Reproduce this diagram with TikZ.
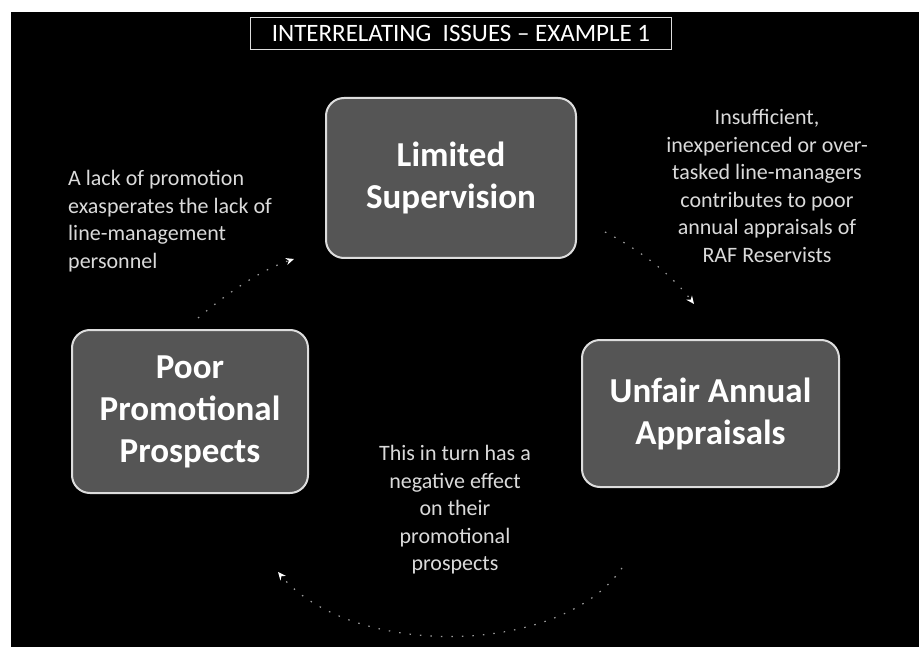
\documentclass[tikz,border=0pt]{standalone}
\usepackage{fontspec}
\setmainfont{Carlito}
\usetikzlibrary{arrows.meta}
\definecolor{boxgray}{HTML}{555555}
\definecolor{boxedge}{HTML}{DDDDDD}
\definecolor{notegray}{HTML}{DADADA}
\definecolor{arcgray}{HTML}{9A9A9A}
\begin{document}
\begin{tikzpicture}[x=1pt,y=-1pt,
  issue/.style={draw=boxedge, line width=2pt, fill=boxgray, rounded corners=18pt,
    text=white, font=\fontsize{35}{42}\selectfont\bfseries, align=center, inner sep=0pt},
  note/.style={text=notegray, font=\fontsize{22}{27.5}\selectfont, inner sep=0pt},
  heading/.style={draw=boxedge, line width=0.8pt, text=white, inner sep=0pt,
    font=\fontsize{25}{30}\selectfont},
  cyc/.style={draw=arcgray, line width=1.2pt, dash pattern=on 1.5pt off 9pt,
    -{Stealth[length=8pt,width=7pt,color=white]}}
]
\useasboundingbox (0,0) rectangle (919,647);
\fill[white] (0,0) rectangle (919,647);
\fill[black] (11,12) rectangle (919,647);

% heading
\node[heading, minimum width=421pt, minimum height=32pt] (title) at (461,33)
  {INTERRELATING\ \ ISSUES – EXAMPLE 1};

% the three issues
\node[issue, minimum width=250pt, minimum height=160pt] (sup) at (451,178)
  {Limited\\Supervision};
\node[issue, minimum width=257pt, minimum height=147pt] (app) at (710.5,413.5)
  {Unfair Annual\\Appraisals};
\node[issue, minimum width=236pt, minimum height=163pt] (pro) at (190,411.5)
  {Poor\\Promotional\\Prospects};

% explanatory notes
\node[note, align=center] (n1) at (767,186)
  {Insufficient,\\inexperienced or over-\\tasked line-managers\\contributes to poor\\annual appraisals of\\RAF Reservists};
\node[note, align=left, anchor=west] (n2) at (68,221)
  {A lack of promotion\\exasperates the lack of\\line-management\\personnel};
\node[note, align=center] (n3) at (455,510)
  {This in turn has a\\negative effect\\on their\\promotional\\prospects};

% cycle arrows
\coordinate (l1) at (198,318);
\coordinate (l2) at (294,259);
\coordinate (r1) at (605,232);
\coordinate (r2) at (694,304);
\coordinate (b1) at (622,568);
\coordinate (b2) at (278,572);
\draw[cyc] (l1) .. controls (225,295) and (260,270) .. (l2);
\draw[cyc] (r1) .. controls (640,250) and (672,275) .. (r2);
\draw[cyc] (b1) .. controls (560,658) and (350,658) .. (b2);
\end{tikzpicture}
\end{document}
